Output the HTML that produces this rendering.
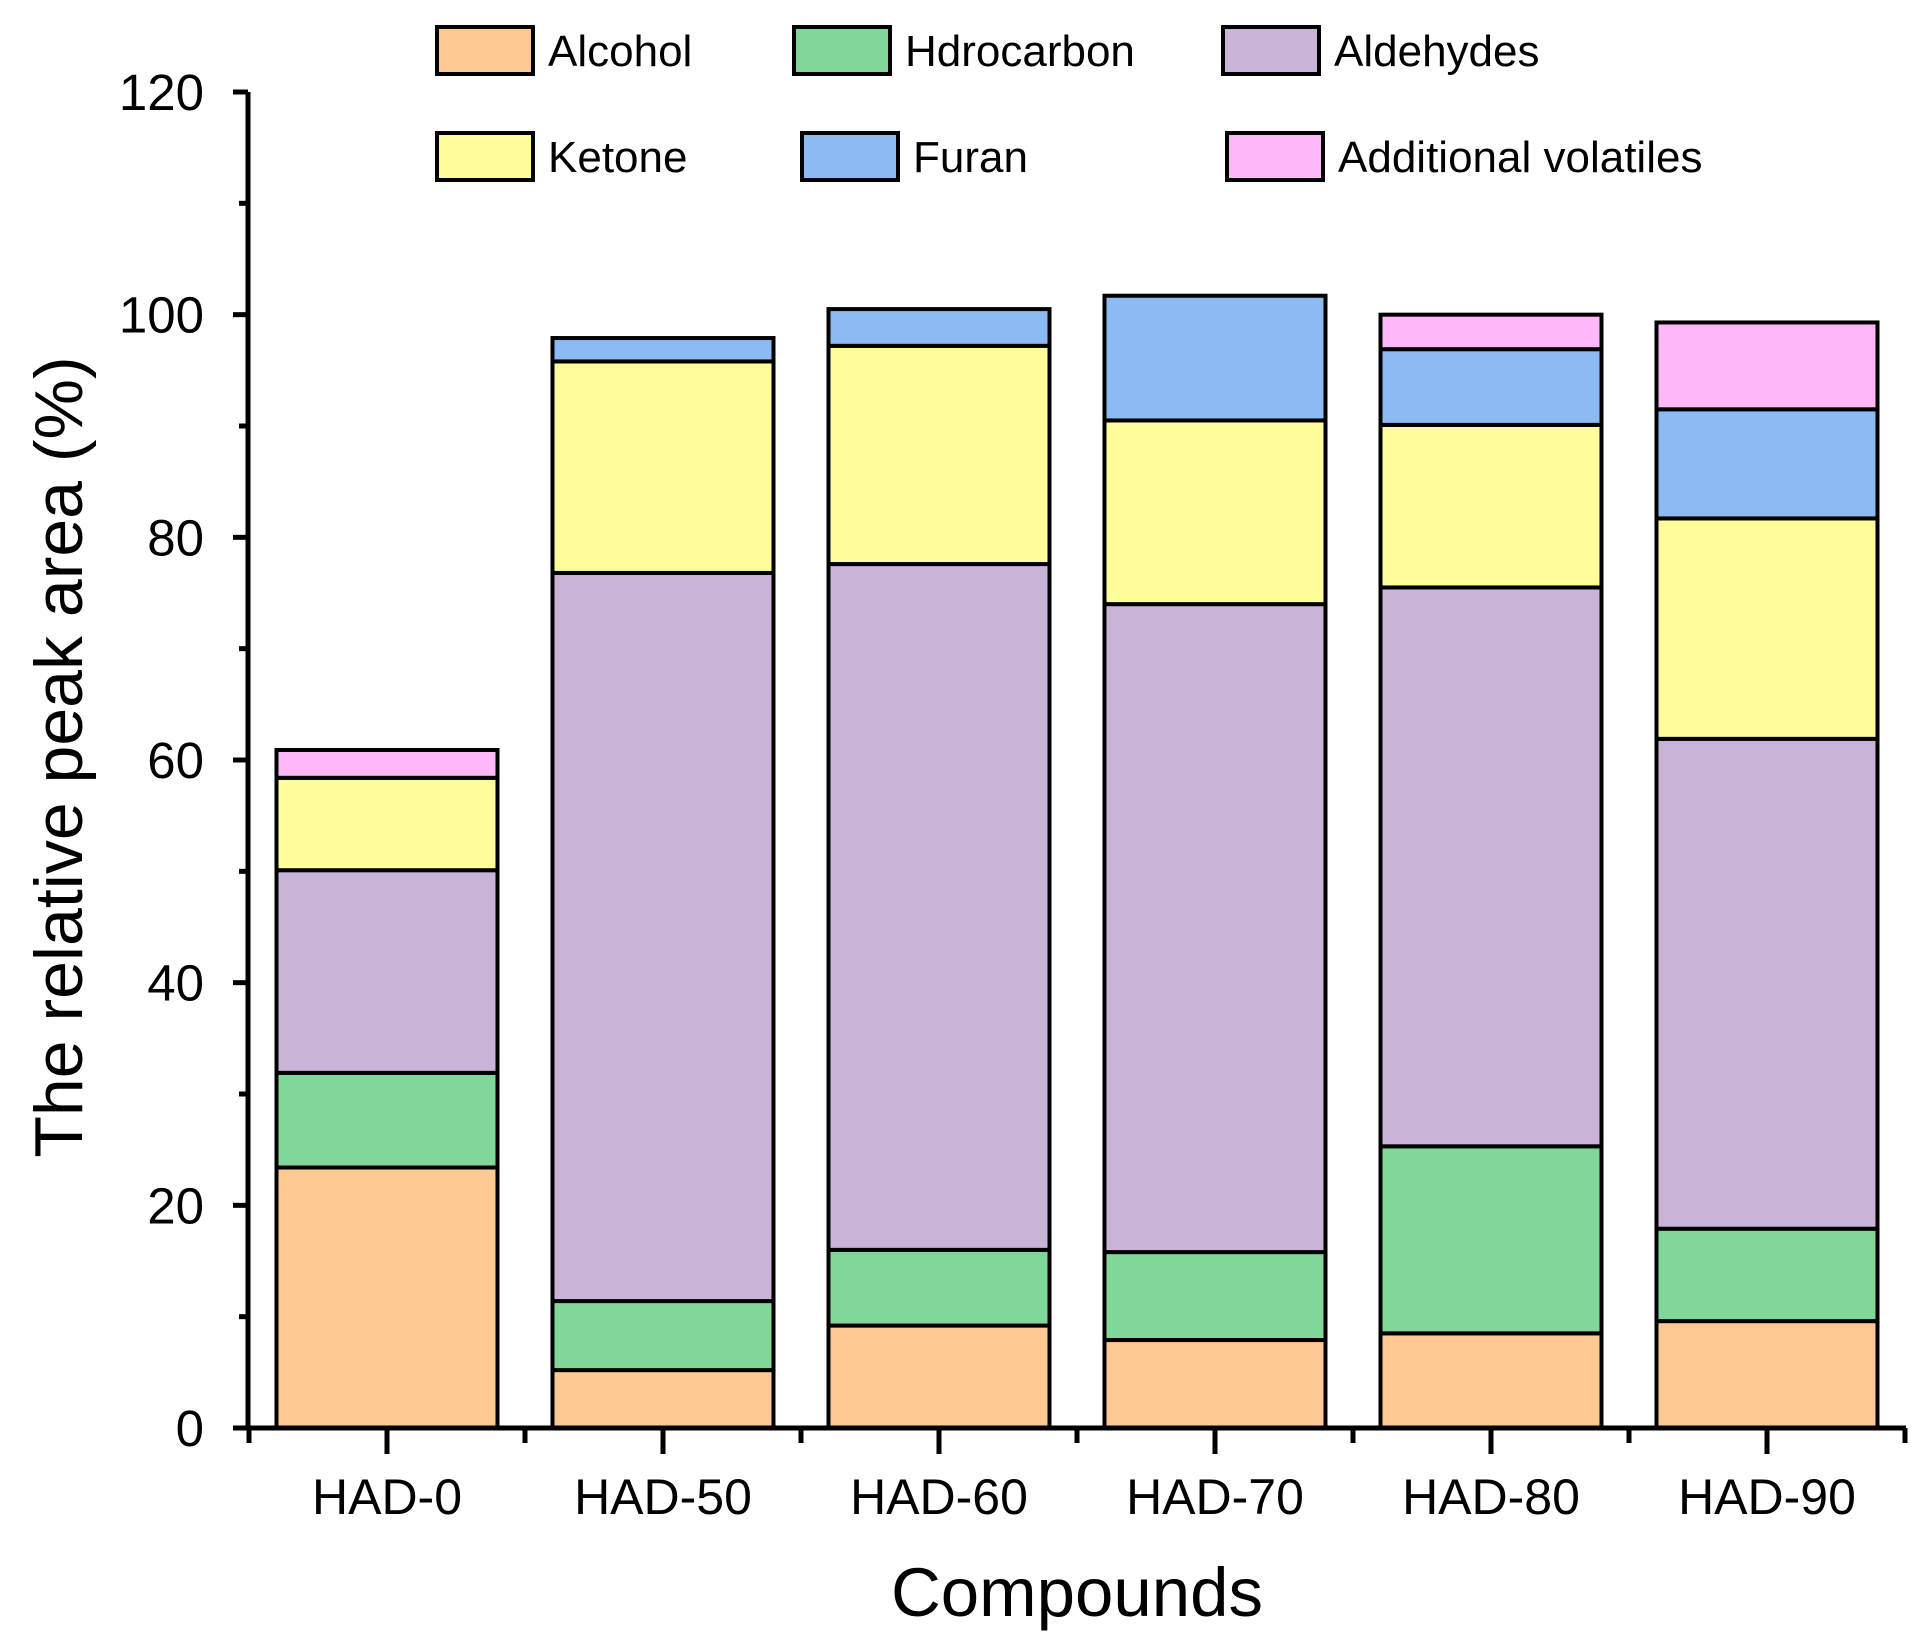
<!DOCTYPE html>
<html><head><meta charset="utf-8"><style>
body{margin:0;background:#fff;}
svg text{font-family:"Liberation Sans",Arial,sans-serif;fill:#000;}
</style></head><body>
<svg id="chart" width="1931" height="1644" viewBox="0 0 1931 1644" xmlns="http://www.w3.org/2000/svg">
<g id="bars"></g>
<g id="axes"></g>
<g id="legend"></g>
<text x="1077" y="1616" font-size="69" text-anchor="middle">Compounds</text>
<text transform="translate(82,757) rotate(-90)" font-size="68" text-anchor="middle">The relative peak area (%)</text>
</svg>
<script>
const categories = ["HAD-0","HAD-50","HAD-60","HAD-70","HAD-80","HAD-90"];
const seriesNames = ["Alcohol","Hdrocarbon","Aldehydes","Ketone","Furan","Additional volatiles"];
const alcohol = [23.4, 5.2, 9.2, 7.9, 8.5, 9.6];
const hydrocarbon = [8.5, 6.2, 6.8, 7.9, 16.8, 8.3];
const aldehydes = [18.2, 65.4, 61.6, 58.2, 50.2, 44.0];
const ketone = [8.3, 19.0, 19.6, 16.5, 14.6, 19.8];
const furan = [0, 2.1, 3.3, 11.2, 6.8, 9.8];
const additional = [2.5, 0, 0, 0, 3.1, 7.8];
const yTicks = [0,20,40,60,80,100,120];
const colors = ["#FEC893","#7FD89A","#C9B3D6","#FEFD9A","#8CBBF4","#FEB7F7"];

const NS="http://www.w3.org/2000/svg";
const x0=248, x1=1906, y0=1428, yTop=92, step=276, firstX=387, barW=221;
const y=v=>y0-(v/120)*(y0-yTop);
const xc=i=>firstX+i*step;
function mk(tag,attrs,parent){const e=document.createElementNS(NS,tag);for(const k in attrs)e.setAttribute(k,attrs[k]);parent.appendChild(e);return e;}
const bars=document.getElementById('bars'),axes=document.getElementById('axes'),legend=document.getElementById('legend');
const series=[alcohol,hydrocarbon,aldehydes,ketone,furan,additional];
categories.forEach((c,i)=>{
  let base=0;
  series.forEach((s,j)=>{
    const v=s[i]; if(v<=0) return;
    const r=mk('rect',{x:xc(i)-barW/2,y:y(base+v),width:barW,height:y(base)-y(base+v),fill:colors[j],stroke:'#000','stroke-width':4},bars);
    
    
    base+=v;
  });
});
mk('line',{x1:x0,y1:y0,x2:x0,y2:yTop,stroke:'#000','stroke-width':5},axes);
mk('line',{x1:x0-2,y1:y0,x2:x1,y2:y0,stroke:'#000','stroke-width':5},axes);
for(let v=0;v<=120;v+=10){
  const major=v%20===0;
  mk('line',{x1:x0-(major?15:9),y1:y(v),x2:x0,y2:y(v),stroke:'#000','stroke-width':5},axes);
}
yTicks.forEach(v=>{
  const t=mk('text',{x:204,y:y(v)+18,'font-size':51,'text-anchor':'end'},axes);
  t.textContent=v;
  
  
});
categories.forEach((c,i)=>{
  mk('line',{x1:xc(i),y1:y0,x2:xc(i),y2:y0+26,stroke:'#000','stroke-width':5},axes);
  mk('line',{x1:xc(i)-step/2,y1:y0,x2:xc(i)-step/2,y2:y0+15,stroke:'#000','stroke-width':5},axes);
  const t=mk('text',{x:xc(i),y:1514,'font-size':50,'text-anchor':'middle'},axes);
  t.textContent=c;
  
  
});
mk('line',{x1:xc(5)+step/2,y1:y0,x2:xc(5)+step/2,y2:y0+15,stroke:'#000','stroke-width':5},axes);
const lx=[437,794,1223,437,802,1227], ly=[27,27,27,133,133,133];
seriesNames.forEach((n,j)=>{
  const g=mk('g',{},legend);
  
  
  mk('rect',{x:lx[j],y:ly[j],width:96,height:47,fill:colors[j],stroke:'#000','stroke-width':4},g);
  const t=mk('text',{x:lx[j]+111,y:ly[j]+39,'font-size':44},g);
  t.textContent=n;
});
</script>
</body></html>
